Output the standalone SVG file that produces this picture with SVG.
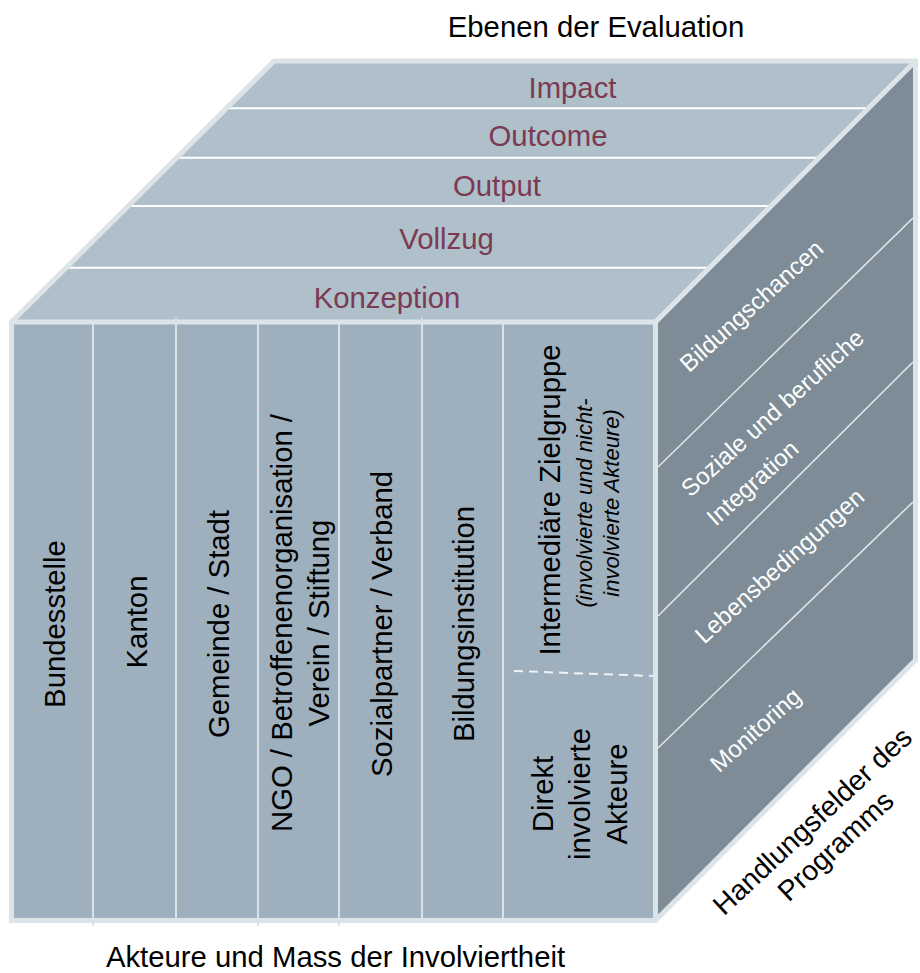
<svg xmlns="http://www.w3.org/2000/svg" width="920" height="973" viewBox="0 0 920 973">
<style>
  .t { font-family: "Liberation Sans", Arial, sans-serif; font-size: 29.3px; fill: #000; }
  .lvl { font-family: "Liberation Sans", Arial, sans-serif; font-size: 29.3px; fill: #7b3a52; text-anchor: middle; }
  .act { font-family: "Liberation Sans", Arial, sans-serif; font-size: 29.3px; fill: #000; text-anchor: middle; }
  .it { font-family: "Liberation Sans", Arial, sans-serif; font-size: 22px; font-style: italic; fill: #000; text-anchor: middle; }
  .fld { font-family: "Liberation Sans", Arial, sans-serif; font-size: 24px; fill: #ffffff; text-anchor: middle; }
  .edge { fill: none; stroke: #dce4e8; stroke-width: 5; stroke-linejoin: miter; }
  .band { stroke: #ffffff; stroke-width: 2; }
  .col { stroke: #dae2e6; stroke-width: 2; }
  .fl { stroke: #dfe6ea; stroke-width: 1.6; }
</style>

<g id="cube">
  <polygon id="top-face" points="11.5,322 274,61 915.5,61 655.5,322" fill="#afc0ca"/>
  <polygon id="front-face" points="11.5,322 655.5,322 655.5,920.5 11.5,920.5" fill="#9eb0be"/>
  <polygon id="right-face" points="655.5,322 915.5,61 915.5,660 655.5,920.5" fill="#7d8c96"/>

  <g id="top-dividers">
    <line class="band" x1="226.4" y1="108.3" x2="868.4" y2="108.3"/>
    <line class="band" x1="176.7" y1="157.7" x2="819.2" y2="157.7"/>
    <line class="band" x1="128.2" y1="206" x2="771.1" y2="206"/>
    <line class="band" x1="66.1" y1="267.7" x2="709.6" y2="267.7"/>
  </g>

  <g id="front-dividers">
    <line class="col" x1="93" y1="322" x2="93" y2="920"/>
    <line class="col" x1="176" y1="322" x2="176" y2="920"/>
    <line class="col" x1="258" y1="322" x2="258" y2="920"/>
    <line class="col" x1="339" y1="322" x2="339" y2="920"/>
    <line class="col" x1="422" y1="322" x2="422" y2="920"/>
    <line class="col" x1="503" y1="322" x2="503" y2="920"/>
    <line x1="514" y1="671" x2="653" y2="676" stroke="#eef2f4" stroke-width="2" stroke-dasharray="9 6"/>
  </g>

  <g id="right-dividers">
    <line class="fl" x1="913" y1="218" x2="658" y2="467"/>
    <line class="fl" x1="913" y1="362" x2="658" y2="616"/>
    <line class="fl" x1="913" y1="502" x2="658" y2="748"/>
  </g>

  <polygon class="edge" points="11.5,322 274,61 915.5,61 915.5,660 655.5,920.5 11.5,920.5"/>
  <polyline class="edge" points="11.5,322 655.5,322 915.5,61"/>
  <line class="edge" x1="655.5" y1="322" x2="655.5" y2="920.5"/>

  <g id="ticks" stroke="#d3dbe0" stroke-width="1.5">
    <line x1="176" y1="317" x2="176" y2="323"/>
    <line x1="422" y1="317" x2="422" y2="323"/>
    <line x1="93" y1="920" x2="93" y2="926"/>
    <line x1="258" y1="920" x2="258" y2="926"/>
    <line x1="339" y1="920" x2="339" y2="926"/>
  </g>
</g>

<g id="level-impact"><text class="lvl" x="572.5" y="98">Impact</text></g>
<g id="level-outcome"><text class="lvl" x="548" y="145.5">Outcome</text></g>
<g id="level-output"><text class="lvl" x="497" y="196">Output</text></g>
<g id="level-vollzug"><text class="lvl" x="446.5" y="249">Vollzug</text></g>
<g id="level-konzeption"><text class="lvl" x="387" y="308">Konzeption</text></g>

<g id="actor-bundesstelle"><text class="act" transform="translate(65,624) rotate(-90)">Bundesstelle</text></g>
<g id="actor-kanton"><text class="act" transform="translate(147,622) rotate(-90)">Kanton</text></g>
<g id="actor-gemeinde"><text class="act" transform="translate(229,624) rotate(-90)">Gemeinde / Stadt</text></g>
<g id="actor-ngo">
  <text class="act" transform="translate(292,623) rotate(-90)">NGO / Betroffenenorganisation /</text>
  <text class="act" transform="translate(328.5,623) rotate(-90)">Verein / Stiftung</text>
</g>
<g id="actor-sozialpartner"><text class="act" transform="translate(392,624) rotate(-90)">Sozialpartner / Verband</text></g>
<g id="actor-bildung"><text class="act" transform="translate(474,624) rotate(-90)">Bildungsinstitution</text></g>
<g id="actor-intermediaer">
  <text class="act" transform="translate(560,500) rotate(-90)">Intermediäre Zielgruppe</text>
  <text class="it" transform="translate(592,503) rotate(-90)">(involvierte und nicht-</text>
  <text class="it" transform="translate(619,503) rotate(-90)">involvierte Akteure)</text>
</g>
<g id="actor-direkt">
  <text class="act" transform="translate(553,794) rotate(-90)">Direkt</text>
  <text class="act" transform="translate(590,794) rotate(-90)">involvierte</text>
  <text class="act" transform="translate(627,794) rotate(-90)">Akteure</text>
</g>

<g id="field-bildungschancen"><text class="fld" transform="translate(757,312) rotate(-42)">Bildungschancen</text></g>
<g id="field-integration">
  <text class="fld" transform="translate(778,419) rotate(-42)">Soziale und berufliche</text>
  <text class="fld" transform="translate(758,489) rotate(-42)">Integration</text>
</g>
<g id="field-lebensbedingungen"><text class="fld" transform="translate(785,572) rotate(-42)">Lebensbedingungen</text></g>
<g id="field-monitoring"><text class="fld" transform="translate(761,736) rotate(-42)">Monitoring</text></g>

<g id="axis-labels">
  <text class="t" x="596" y="36.5" text-anchor="middle">Ebenen der Evaluation</text>
  <text class="t" x="335.5" y="966.5" text-anchor="middle">Akteure und Mass der Involviertheit</text>
  <g transform="translate(819,828) rotate(-43)">
    <text class="t" x="0" y="0" text-anchor="middle" style="font-size:28.3px">Handlungsfelder des</text>
    <text class="t" x="0" y="34" text-anchor="middle" style="font-size:28.3px">Programms</text>
  </g>
</g>
</svg>
